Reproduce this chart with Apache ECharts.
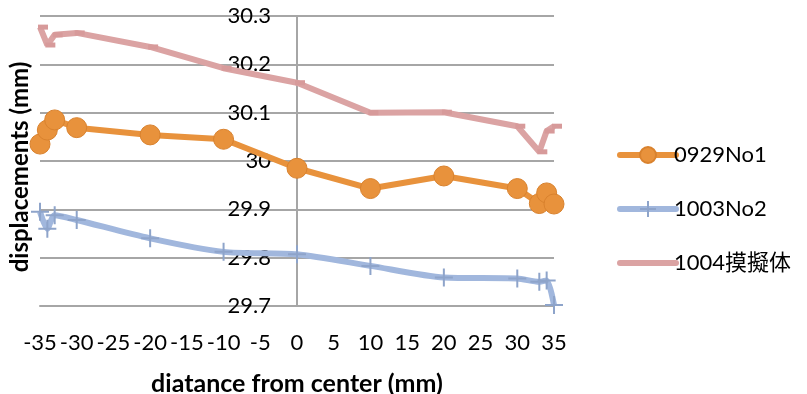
<!DOCTYPE html>
<html>
<head>
<meta charset="utf-8">
<script src="https://cdn.jsdelivr.net/npm/echarts@6/dist/echarts.min.js"></script>
<style>
  html, body { margin: 0; padding: 0; background: #fff; }
  #chart { width: 807px; height: 394px; }
</style>
</head>
<body>
<div id="chart"></div>
<script>
// Measurement positions across the specimen (mm from center)
const positions = [-35, -34, -33, -30, -20, -10, 0, 10, 20, 30, 33, 34, 35];

// Displacement readings (mm) for each run
const run0929No1 = [30.035, 30.064, 30.085, 30.069, 30.054, 30.045, 29.985, 29.943, 29.969, 29.943, 29.912, 29.934, 29.911];
const run1003No2 = [29.895, 29.860, 29.888, 29.878, 29.840, 29.812, 29.807, 29.783, 29.759, 29.757, 29.750, 29.753, 29.702];
const run1004Dummy = [30.277, 30.240, 30.261, 30.265, 30.236, 30.192, 30.162, 30.100, 30.101, 30.072, 30.019, 30.062, 30.072];

const seriesNames = ['0929No1', '1003No2', '1004摸擬体'];

const pair = (vals) => positions.map((x, i) => [x, vals[i]]);

const FONT = "Lato, 'Noto Sans CJK JP', sans-serif";
const GRID_GRAY = '#A6A6A6';

// plot area
const GRID_LEFT = 40, GRID_RIGHT = 253;
const PLOT_W = 807 - GRID_LEFT - GRID_RIGHT;
const X_MIN = -35, X_MAX = 35;
// shift the value axis from the left edge to x = 0
const Y_AXIS_SHIFT = -PLOT_W * (0 - X_MIN) / (X_MAX - X_MIN);

const chart = echarts.init(document.getElementById('chart'), null, { renderer: 'canvas' });

chart.setOption({
  animation: false,
  backgroundColor: '#ffffff',
  textStyle: { fontFamily: FONT },
  grid: { left: GRID_LEFT, right: GRID_RIGHT, top: 16, bottom: 88, containLabel: false, outerBoundsMode: 'none' },
  legend: {
    orient: 'vertical',
    left: 612,
    top: 139,
    itemWidth: 56,
    itemHeight: 20,
    itemGap: 32,
    lineStyle: { width: 6, cap: 'round' },
    data: [
      { name: seriesNames[0] },
      { name: seriesNames[1] },
      { name: seriesNames[2], itemStyle: { opacity: 0 } }
    ],
    textStyle: { fontFamily: FONT, fontSize: 22, color: '#000', padding: [0, 0, 0, -7] }
  },
  xAxis: {
    type: 'value',
    min: X_MIN,
    max: X_MAX,
    interval: 5,
    name: 'diatance from center (mm)',
    nameLocation: 'middle',
    nameGap: 65,
    nameTextStyle: { fontFamily: FONT, fontSize: 25, fontWeight: 'bold', color: '#000' },
    axisLine: { show: true, onZero: false, lineStyle: { color: GRID_GRAY, width: 2 } },
    axisTick: { show: false },
    splitLine: { show: false },
    axisLabel: { fontFamily: FONT, fontSize: 22, color: '#000', margin: 26 }
  },
  yAxis: {
    type: 'value',
    min: 29.7,
    max: 30.3,
    interval: 0.1,
    position: 'left',
    offset: Y_AXIS_SHIFT,
    axisLine: { show: true, onZero: false, lineStyle: { color: GRID_GRAY, width: 2 } },
    axisTick: { show: false },
    splitLine: { show: true, lineStyle: { color: GRID_GRAY, width: 2 } },
    axisLabel: {
      fontFamily: FONT,
      fontSize: 22,
      color: '#000',
      margin: 26,
      padding: [8, 0, 0, 0],
      formatter: (v) => String(Math.round(v * 10) / 10)
    }
  },
  graphic: [{
    type: 'text',
    x: 20,
    y: 167,
    rotation: Math.PI / 2,
    style: {
      text: 'displacements (mm)',
      fontFamily: FONT,
      fontSize: 24,
      fontWeight: 'bold',
      fill: '#000',
      align: 'center',
      verticalAlign: 'middle'
    }
  }],
  series: [
    {
      name: seriesNames[0],
      type: 'line',
      data: pair(run0929No1),
      symbol: 'circle',
      symbolSize: 20,
      lineStyle: { color: '#E8923C', width: 6 },
      itemStyle: { color: '#E8923C', borderColor: '#D9822E', borderWidth: 1 },
      z: 4
    },
    {
      name: seriesNames[1],
      type: 'line',
      data: pair(run1003No2),
      smooth: 0.25,
      symbol: 'path://M0,8 L16,8 M8,0 L8,16',
      symbolSize: 18,
      lineStyle: { color: '#A1B7DD', width: 6 },
      itemStyle: { color: '#A1B7DD', borderColor: '#8EA4CA', borderWidth: 2 },
      z: 3
    },
    {
      name: seriesNames[2],
      type: 'line',
      data: pair(run1004Dummy),
      symbol: 'rect',
      symbolSize: [10, 5],
      symbolOffset: [3, 0],
      lineStyle: { color: '#DBA3A3', width: 6 },
      itemStyle: { color: '#D79A9A' },
      z: 2
    }
  ]
});
</script>
</body>
</html>
